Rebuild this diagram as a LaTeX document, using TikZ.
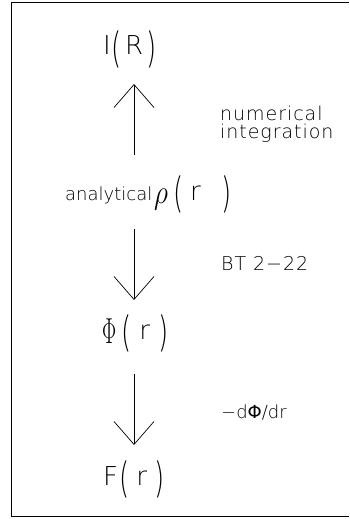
\documentclass[tikz,border=0pt]{standalone}
\usepackage{fontspec}
\usepackage{graphicx}
\usetikzlibrary{arrows.meta}
\newfontfamily\hf{DejaVu Sans ExtraLight}
\newfontfamily\hfs[LetterSpace=5]{DejaVu Sans ExtraLight}
\newfontfamily\hfb{DejaVu Sans}
\newcommand{\bigsz}{\fontsize{26pt}{30pt}\selectfont}
\newcommand{\smsz}{\fontsize{18pt}{20pt}\selectfont}
\newcommand{\mdsz}{\fontsize{19pt}{20pt}\selectfont}
\newcommand{\tp}[1]{\raisebox{-0.3em}{\scalebox{1}[1.6]{#1}}}
\begin{document}
\begin{tikzpicture}[x=1pt,y=-1pt,
  lbl/.style={inner sep=0pt, anchor=base west, font=\hf\bigsz},
  note/.style={inner sep=0pt, anchor=base west, font=\hf\smsz},
  wnote/.style={inner sep=0pt, anchor=base west, font=\hfs\mdsz},
  flow/.style={line width=0.7pt, -{Straight Barb[length=23pt,width=40pt,line width=0.7pt]}},
  frame/.style={line width=0.8pt}]
\useasboundingbox (0,0) rectangle (349,519);
\draw[frame] (349,2.5) -- (11.5,2.5) -- (11.5,516) -- (349,516);
% main quantities
\node[lbl] (IR) at (103,55) {I\hspace{1pt}\tp{(}\hspace{3pt}R\hspace{3pt}\tp{)}};
\node[note] (an) at (65,200) {analytical};
\node[lbl] (rho) at (154,200) {\raisebox{-3pt}{\scalebox{1.1}[1.35]{$\rho$}}\hspace{5pt}\tp{(}\hspace{7pt}r\hspace{21pt}\tp{)}};
\node[lbl] (Phi) at (102,339) {\raisebox{-4pt}{\scalebox{0.85}[1.45]{$\Phi$}}\hspace{5pt}\tp{(}\hspace{8pt}r\hspace{8pt}\tp{)}};
\node[lbl] (F) at (103,485) {F\hspace{1pt}\tp{(}\hspace{7pt}r\hspace{8pt}\tp{)}};
% notes
\node[wnote] (num) at (220,120) {numerical};
\node[wnote] (int) at (220,138) {integration};
\node[wnote] (bt) at (221,270) {BT 2−22};
\node[note] (dphi) at (221,418) {−d{\hfb Φ}/dr};
% arrows
\coordinate (a1s) at (134,155); \coordinate (a1e) at (134,84);
\coordinate (a2s) at (134,229); \coordinate (a2e) at (134,300);
\coordinate (a3s) at (134,374); \coordinate (a3e) at (134,445);
\draw[flow] (a1s) -- (a1e);
\draw[flow] (a2s) -- (a2e);
\draw[flow] (a3s) -- (a3e);
\end{tikzpicture}
\end{document}
